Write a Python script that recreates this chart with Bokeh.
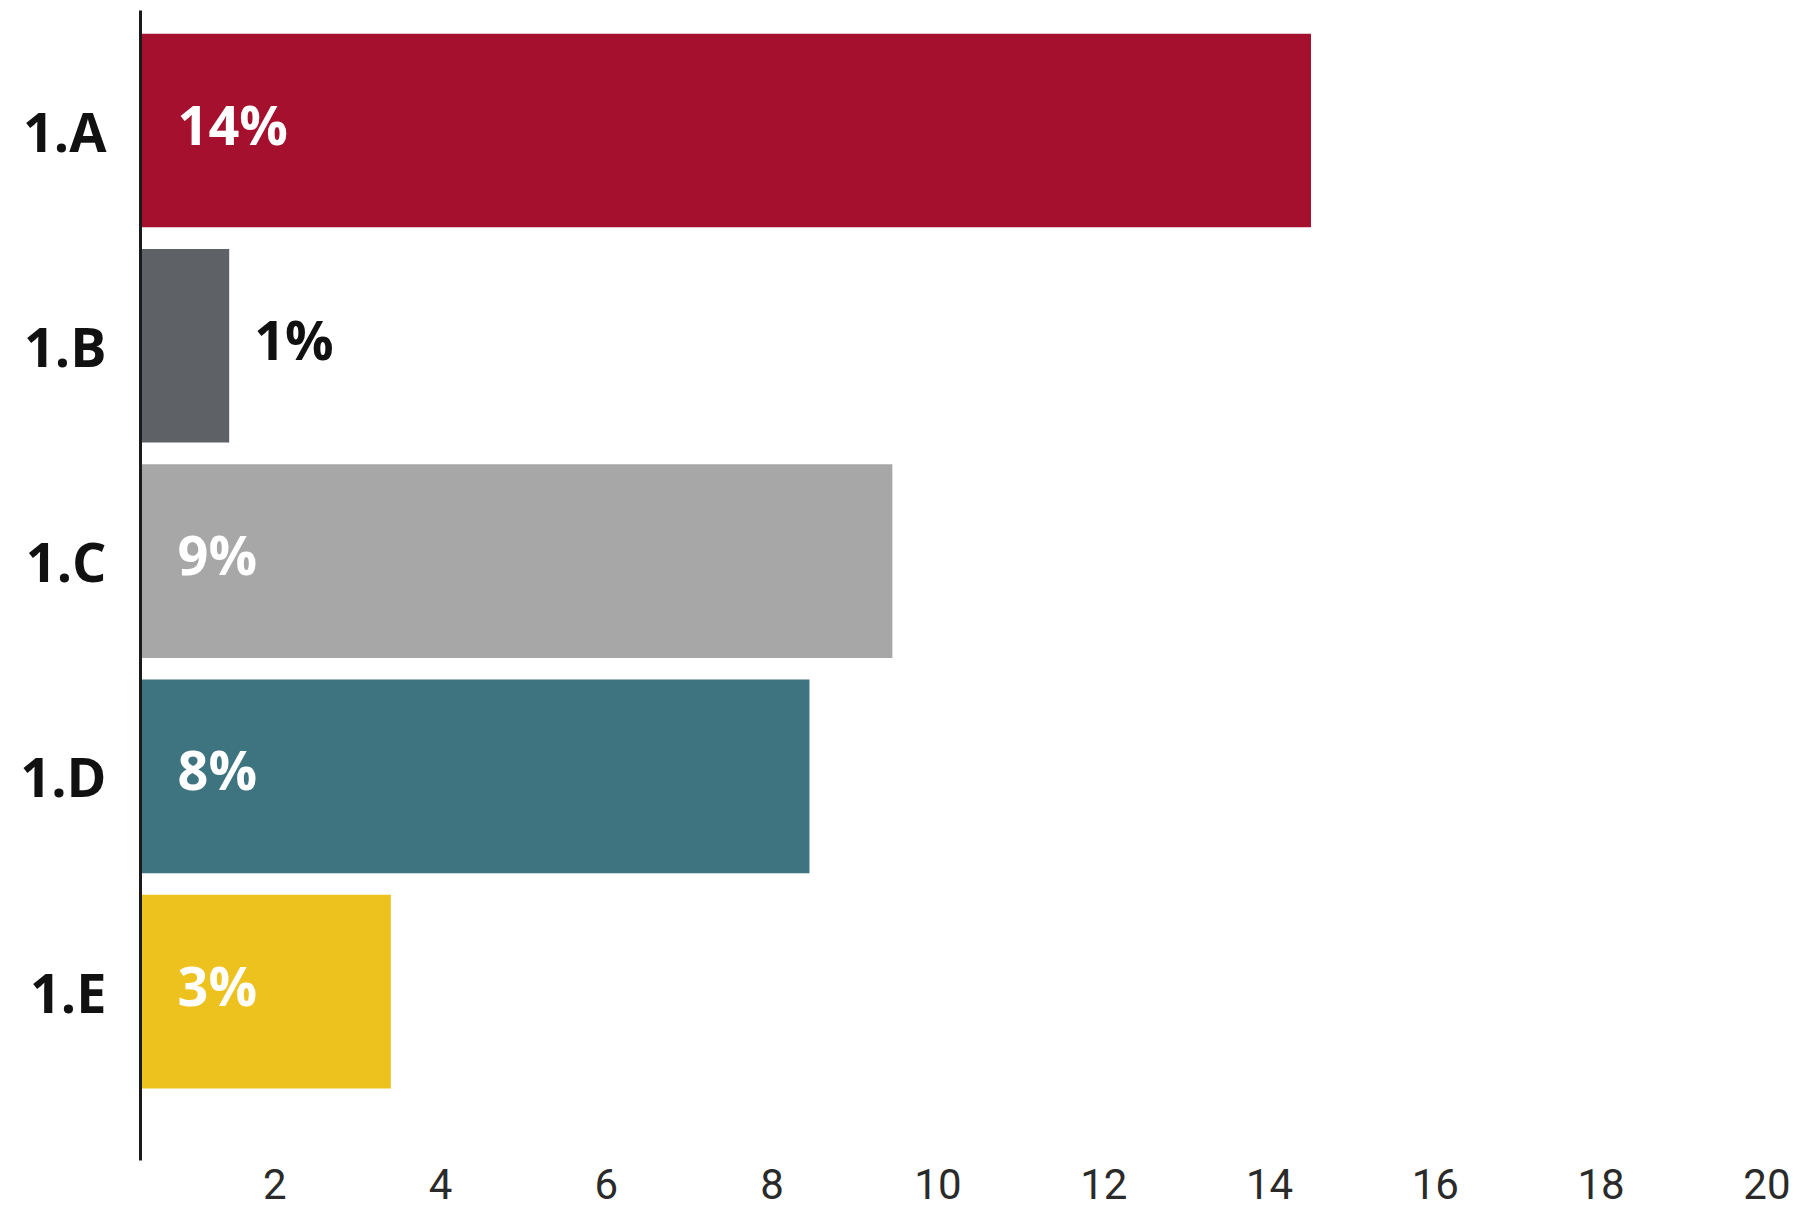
from bokeh.plotting import figure
from bokeh.models import Range1d, FixedTicker, ColumnDataSource
from bokeh.core.properties import value
from bokeh.embed import file_html
from bokeh.resources import INLINE

# ---- data ----
categories = ["1.A", "1.B", "1.C", "1.D", "1.E"]
values = [14.5, 1.45, 9.45, 8.45, 3.4]
bar_labels = ["14%", "1%", "9%", "8%", "3%"]
bar_colors = ["#A6102F", "#5E6165", "#A7A7A7", "#3D7480", "#EDC11E"]
x_ticks = [2, 4, 6, 8, 10, 12, 14, 16, 18, 20]

n = len(categories)
ypos = list(range(n - 1, -1, -1))  # first category on top

X_START = 0.38
p = figure(width=1797, height=1210, output_backend="svg", toolbar_location=None,
           x_range=Range1d(X_START, 20.2), y_range=Range1d(-0.785, 4.5575),
           min_border_left=140, min_border_right=14, min_border_top=10, min_border_bottom=50)
p.outline_line_color = None
p.xgrid.visible = False
p.ygrid.visible = False
p.background_fill_color = "white"

src = ColumnDataSource(dict(y=ypos, v=values, c=bar_colors, cat=categories))
p.hbar(y="y", left=0, right="v", height=0.9, fill_color="c", line_color=None, source=src)

# labels: inside bar (white) or just past the end for short bars (black)
inside = [v >= 2 for v in values]
lab_in = ColumnDataSource(dict(
    y=[y for y, ok in zip(ypos, inside) if ok],
    t=[t for t, ok in zip(bar_labels, inside) if ok]))
lab_out = ColumnDataSource(dict(
    y=[y for y, ok in zip(ypos, inside) if not ok],
    x=[v for v, ok in zip(values, inside) if not ok],
    t=[t for t, ok in zip(bar_labels, inside) if not ok]))
p.text(x=X_START, y="y", text="t", source=lab_in, x_offset=37, y_offset=-7,
       text_font=value("Open Sans"), text_font_style="bold", text_font_size="54px",
       text_color="white", text_align="left", text_baseline="middle")
p.text(x="x", y="y", text="t", source=lab_out, x_offset=25, y_offset=-7,
       text_font=value("Open Sans"), text_font_style="bold", text_font_size="54px",
       text_color="#111111", text_align="left", text_baseline="middle")

# y axis
ya = p.yaxis[0]
ya.ticker = FixedTicker(ticks=ypos)
ya.major_label_overrides = {y: c for y, c in zip(ypos, categories)}
ya.major_tick_line_color = None
ya.minor_tick_line_color = None
ya.axis_line_color = "#1a1a1a"
ya.axis_line_width = 3
ya.major_label_standoff = 28
ya.major_label_text_font = "Open Sans"
ya.major_label_text_font_style = "bold"
ya.major_label_text_font_size = "54px"
ya.major_label_text_color = "#111111"

# x axis
xa = p.xaxis[0]
xa.ticker = FixedTicker(ticks=x_ticks)
xa.axis_line_color = None
xa.major_tick_line_color = None
xa.minor_tick_line_color = None
xa.major_label_standoff = 2
xa.major_label_text_font = "Roboto"
xa.major_label_text_font_size = "42px"
xa.major_label_text_color = "#2a2a2a"

open("out.html", "w").write(file_html(p, INLINE))
